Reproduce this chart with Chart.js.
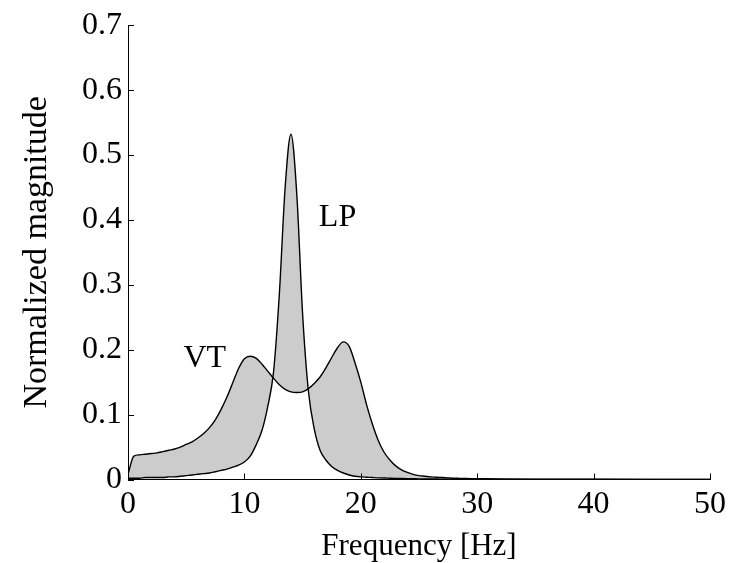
<!DOCTYPE html>
<html>
<head>
<meta charset="utf-8">
<script src="https://cdn.jsdelivr.net/npm/chart.js@4/dist/chart.umd.min.js"></script>
<style>
html,body{margin:0;padding:0;background:#fff;}
canvas{display:block;}
</style>
</head>
<body>
<canvas id="c" width="732" height="563"></canvas>
<script>
// Frequency grid [Hz]
const freq = [0,0.5,1,1.5,2,2.5,3,3.5,4,4.5,5,5.5,6,6.5,7,7.5,8,8.5,9,9.5,
  10,10.5,11,11.5,12,12.5,13,13.5,14,14.5,15,15.5,16,16.5,17,17.5,18,18.5,19,19.5,
  20,20.5,21,21.5,22,22.5,23,23.5,24,24.5,25,25.5,26,26.5,27,27.5,28,28.5,29,29.5,
  30,32,35,40,45,50];
// VT normalized magnitude
const vt = [0.008,0.036,0.038,0.039,0.040,0.041,0.043,0.045,0.047,0.050,0.054,0.058,0.064,0.071,0.080,0.092,0.108,0.127,0.149,0.171,
  0.186,0.190,0.187,0.178,0.167,0.156,0.146,0.139,0.135,0.134,0.135,0.140,0.148,0.158,0.172,0.188,0.203,0.212,0.205,0.180,
  0.150,0.115,0.085,0.060,0.042,0.030,0.021,0.015,0.011,0.008,0.006,0.005,0.004,0.0035,0.003,0.0025,0.002,0.0018,0.0015,0.0013,
  0.0012,0.0008,0.0005,0.0003,0.0002,0.0001];
// LP normalized magnitude
const lp = [0.002,0.002,0.002,0.003,0.003,0.003,0.003,0.004,0.004,0.005,0.006,0.007,0.008,0.009,0.010,0.012,0.014,0.016,0.019,0.022,
  0.027,0.036,0.053,0.075,0.112,0.165,0.285,0.450,0.532,0.440,0.255,0.136,0.078,0.045,0.030,0.020,0.014,0.010,0.007,0.005,
  0.004,0.0035,0.003,0.0025,0.0022,0.002,0.0018,0.0016,0.0014,0.0012,0.001,0.0009,0.0008,0.0007,0.0006,0.0005,0.0005,0.0004,0.0004,0.0003,
  0.0003,0.0002,0.0001,0.0001,0,0];
const xTicks = [0,10,20,30,40,50];
const yTicks = [0,0.1,0.2,0.3,0.4,0.5,0.6,0.7];
const labelNames = ['VT','LP'];
const labelX = [6.6, 18.0];
const labelY = [0.1865, 0.404];

const FONT = "'Liberation Serif', 'Times New Roman', serif";
const toXY = arr => arr.map((v,i)=>({x:freq[i], y:v}));

const tickPlugin = {
  id:'inwardTicks',
  afterDatasetsDraw(chart){
    const ctx = chart.ctx, xs = chart.scales.x, ys = chart.scales.y;
    const a = chart.chartArea;
    ctx.save();
    ctx.strokeStyle = '#000';
    ctx.lineWidth = 1;
    ctx.beginPath();
    xTicks.forEach(t=>{
      const px = Math.round(xs.getPixelForValue(t))+0.5;
      ctx.moveTo(px, a.bottom); ctx.lineTo(px, a.bottom-6);
    });
    yTicks.forEach(t=>{
      const py = Math.round(ys.getPixelForValue(t))+0.5;
      ctx.moveTo(a.left, py); ctx.lineTo(a.left+6, py);
    });
    ctx.stroke();
    ctx.fillStyle = '#000';
    ctx.font = "32px " + FONT;
    ctx.textAlign = 'center';
    ctx.textBaseline = 'middle';
    labelNames.forEach((n,i)=>{
      ctx.fillText(n, xs.getPixelForValue(labelX[i]), ys.getPixelForValue(labelY[i]));
    });
    ctx.restore();
  }
};

new Chart(document.getElementById('c'), {
  type:'line',
  data:{
    datasets:[
      {label:'VT', data: toXY(vt), borderColor:'#000', borderWidth:1.4, pointRadius:0,
       cubicInterpolationMode:'monotone',
       fill:{target:1, above:'#cccccc', below:'#cccccc'}},
      {label:'LP', data: toXY(lp), borderColor:'#000', borderWidth:1.4, pointRadius:0,
       cubicInterpolationMode:'monotone', fill:false}
    ]
  },
  options:{
    responsive:false,
    animation:false,
    devicePixelRatio:1,
    layout:{padding:{top:19.5, right:19, left:0, bottom:0}},
    plugins:{
      legend:{display:false},
      tooltip:{enabled:false},
      filler:{drawTime:'beforeDatasetsDraw'}
    },
    scales:{
      x:{
        type:'linear', min:0, max:50,
        afterFit(s){ s.height = 83.5; },
        afterBuildTicks(s){ s.ticks = xTicks.map(v=>({value:v})); },
        grid:{display:false, drawTicks:false},
        border:{display:true, color:'#000', width:1},
        ticks:{color:'#000', padding:6, maxRotation:0, font:{family:FONT, size:32}},
        title:{display:true, text:'Frequency [Hz]', color:'#000', font:{family:FONT, size:31, lineHeight:1}, padding:{top:0,bottom:1}}
      },
      y:{
        type:'linear', min:0, max:0.7,
        afterFit(s){ s.width = 128; },
        afterBuildTicks(s){ s.ticks = yTicks.map(v=>({value:v})); },
        grid:{display:false, drawTicks:false},
        border:{display:true, color:'#000', width:1},
        ticks:{color:'#000', padding:6, font:{family:FONT, size:32}, callback:v=>String(Math.round(v*10)/10)},
        title:{display:true, text:'Normalized magnitude', color:'#000', font:{family:FONT, size:34, lineHeight:1}, padding:{top:20,bottom:0}}
      }
    }
  },
  plugins:[tickPlugin]
});
</script>
</body>
</html>
